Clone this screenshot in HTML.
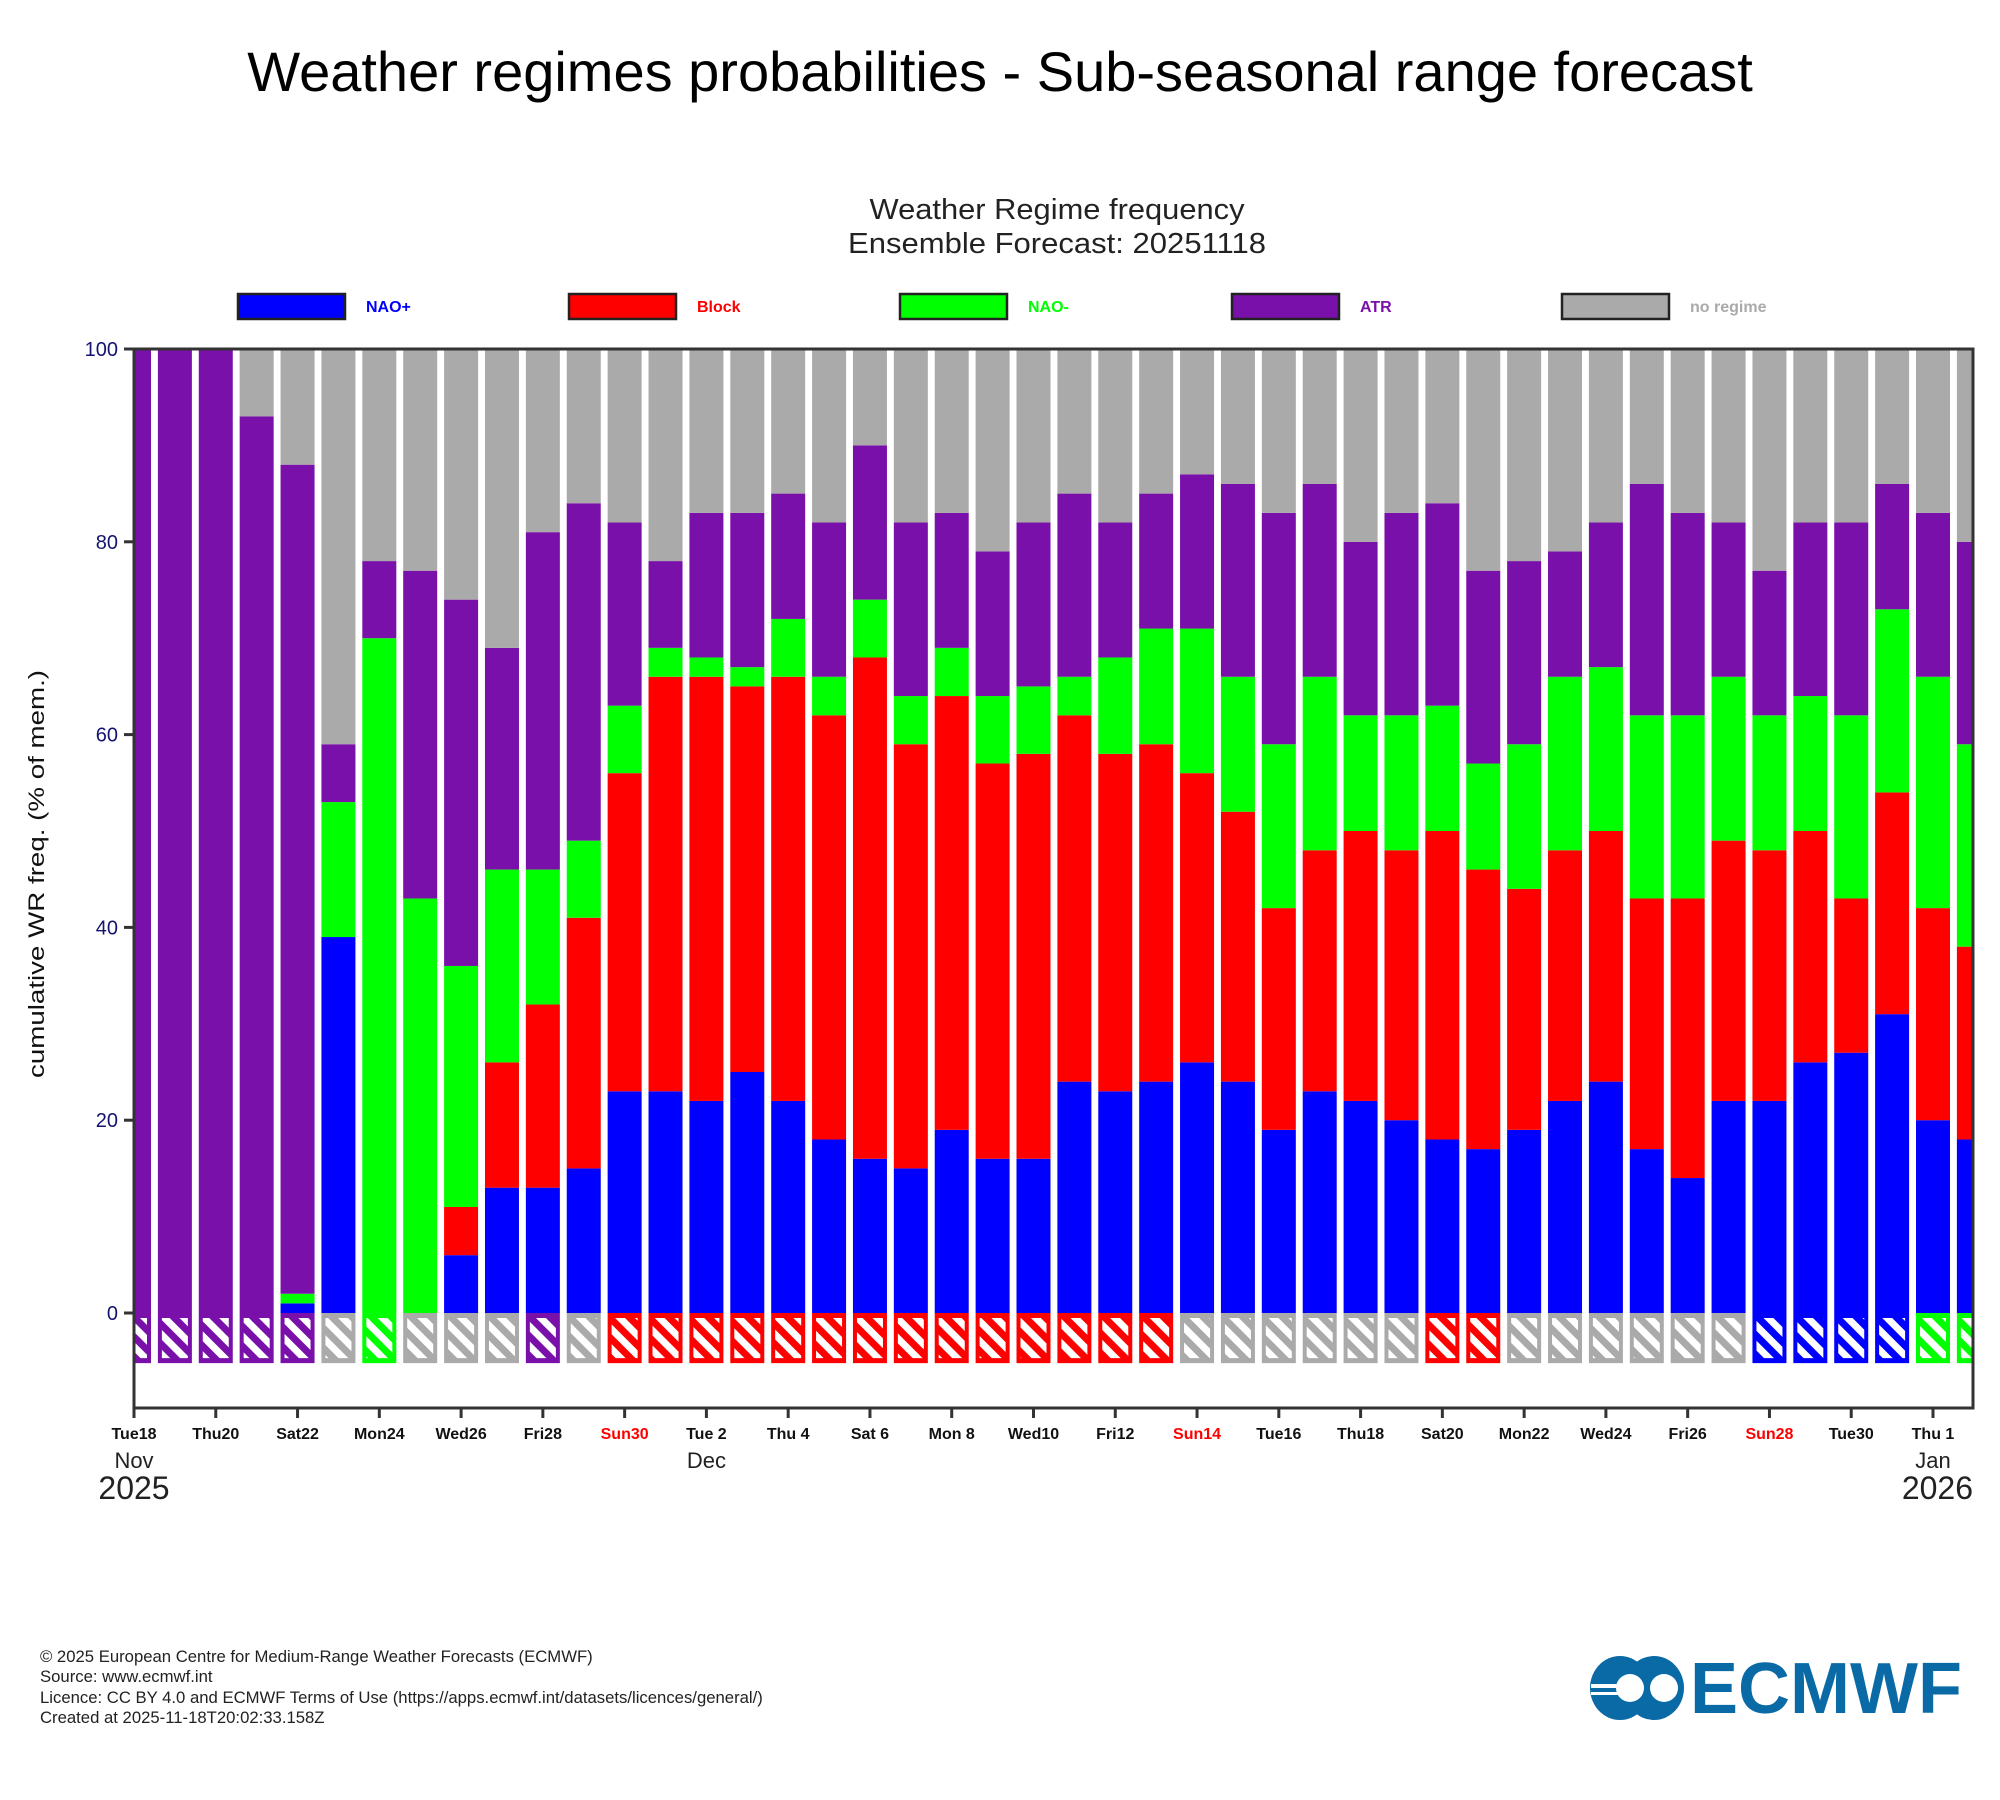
<!DOCTYPE html>
<html><head><meta charset="utf-8"><style>
html,body{margin:0;padding:0;background:#fff;width:2000px;height:1800px;overflow:hidden}
svg{display:block}
</style></head><body>
<svg id="chart" width="2000" height="1800" viewBox="0 0 2000 1800" xmlns="http://www.w3.org/2000/svg" font-family="Liberation Sans, sans-serif">
<defs>
<pattern id="hatch" patternUnits="userSpaceOnUse" width="14" height="14" patternTransform="rotate(45)">
<rect x="0" y="0" width="14" height="7" fill="#fff"/>
</pattern>
<clipPath id="plotclip"><rect x="134" y="349" width="1839" height="1060"/></clipPath>
</defs>
<text x="1000" y="91" text-anchor="middle" font-size="56">Weather regimes probabilities - Sub-seasonal range forecast</text>
<text x="1057" y="219" text-anchor="middle" font-size="29" fill="#222" textLength="375" lengthAdjust="spacingAndGlyphs">Weather Regime frequency</text>
<text x="1057" y="253" text-anchor="middle" font-size="29" fill="#222" textLength="418" lengthAdjust="spacingAndGlyphs">Ensemble Forecast: 20251118</text>
<g id="legend"></g>
<g id="plot" clip-path="url(#plotclip)"></g>
<g id="axes"></g>
<text transform="translate(44,874) rotate(-90)" text-anchor="middle" font-size="22" fill="#111" textLength="408" lengthAdjust="spacingAndGlyphs">cumulative WR freq. (% of mem.)</text>
<g font-size="16.7" fill="#222">
<text x="40" y="1662">© 2025 European Centre for Medium-Range Weather Forecasts (ECMWF)</text>
<text x="40" y="1682">Source: www.ecmwf.int</text>
<text x="40" y="1703">Licence: CC BY 4.0 and ECMWF Terms of Use (https://apps.ecmwf.int/datasets/licences/general/)</text>
<text x="40" y="1723">Created at 2025-11-18T20:02:33.158Z</text>
</g>
<g fill="#0a6aa6">
<ellipse cx="1620" cy="1688" rx="30" ry="32"/>
<ellipse cx="1654" cy="1688" rx="30" ry="32"/>
<circle cx="1630" cy="1688" r="14" fill="#fff"/>
<circle cx="1664" cy="1688" r="14" fill="#fff"/>
<rect x="1591" y="1684" width="36" height="4" fill="#fff"/>
<rect x="1591" y="1692" width="36" height="3" fill="#fff"/>
<text x="1690" y="1713" font-size="72" font-weight="bold" textLength="272" lengthAdjust="spacingAndGlyphs">ECMWF</text>
</g>
</svg>
<script>
// cumulative tops: NAO+, Block, NAO-, ATR (rest = no regime)
const days = ["Tue18","Wed19","Thu20","Fri21","Sat22","Sun23","Mon24","Tue25","Wed26","Thu27","Fri28","Sat29","Sun30","Mon1","Tue2","Wed3","Thu4","Fri5","Sat6","Sun7","Mon8","Tue9","Wed10","Thu11","Fri12","Sat13","Sun14","Mon15","Tue16","Wed17","Thu18","Fri19","Sat20","Sun21","Mon22","Tue23","Wed24","Thu25","Fri26","Sat27","Sun28","Mon29","Tue30","Wed31","Thu1","Fri2"];
const naoPlus = [0,0,0,0,1,39,0,0,6,13,13,15,23,23,22,25,22,18,16,15,19,16,16,24,23,24,26,24,19,23,22,20,18,17,19,22,24,17,14,22,22,26,27,31,20,18];
const blockTop = [0,0,0,0,1,39,0,0,11,26,32,41,56,66,66,65,66,62,68,59,64,57,58,62,58,59,56,52,42,48,50,48,50,46,44,48,50,43,43,49,48,50,43,54,42,38];
const naoMinusTop = [0,0,0,0,2,53,70,43,36,46,46,49,63,69,68,67,72,66,74,64,69,64,65,66,68,71,71,66,59,66,62,62,63,57,59,66,67,62,62,66,62,64,62,73,66,59];
const atrTop = [100,100,100,93,88,59,78,77,74,69,81,84,82,78,83,83,85,82,90,82,83,79,82,85,82,85,87,86,83,86,80,83,84,77,78,79,82,86,83,82,77,82,82,86,83,80];
const dominant = ["ATR","ATR","ATR","ATR","ATR","none","NAO-","none","none","none","ATR","none","Block","Block","Block","Block","Block","Block","Block","Block","Block","Block","Block","Block","Block","Block","none","none","none","none","none","none","Block","Block","none","none","none","none","none","none","NAO+","NAO+","NAO+","NAO+","NAO-","NAO-"];
const tickLabels = ["Tue18","Thu20","Sat22","Mon24","Wed26","Fri28","Sun30","Tue 2","Thu 4","Sat 6","Mon 8","Wed10","Fri12","Sun14","Tue16","Thu18","Sat20","Mon22","Wed24","Fri26","Sun28","Tue30","Thu 1"];
const yTicks = [0,20,40,60,80,100];
const regimes = ["NAO+","Block","NAO-","ATR","no regime"];

const colors = {"NAO+":"#0000ff","Block":"#ff0000","NAO-":"#00ff00","ATR":"#7a10aa","none":"#aaaaaa","no regime":"#aaaaaa"};
const NS="http://www.w3.org/2000/svg";
const X0=134, X1=1973, STEP=(1933-134)/44, BW=34;
const Y0=1313, UNIT=(1313-349)/100;
function xs(i){return X0+i*STEP;}
function ys(v){return Y0-v*UNIT;}
function mk(tag,attrs,parent){const e=document.createElementNS(NS,tag);for(const k in attrs)e.setAttribute(k,attrs[k]);parent.appendChild(e);return e;}
const plot=document.getElementById('plot'), axes=document.getElementById('axes'), legend=document.getElementById('legend');

days.forEach((d,i)=>{
  const g=mk('g',{},plot);
  
  
  const segs=[[0,naoPlus[i],"NAO+"],[naoPlus[i],blockTop[i],"Block"],[blockTop[i],naoMinusTop[i],"NAO-"],[naoMinusTop[i],atrTop[i],"ATR"],[atrTop[i],100,"none"]];
  segs.forEach(s=>{
    if(s[1]-s[0]<=0) return;
    const r=mk('rect',{x:xs(i)-BW/2,y:ys(s[1]),width:BW,height:(s[1]-s[0])*UNIT,fill:colors[s[2]]},g);
    
    
  });
  const hb=mk('g',{},g);
  
  
  mk('rect',{x:xs(i)-BW/2,y:ys(0),width:BW,height:5.2*UNIT,fill:colors[dominant[i]]},hb);
  mk('rect',{x:xs(i)-BW/2+4,y:ys(0)+5,width:BW-8,height:5.2*UNIT-10,fill:'url(#hatch)'},hb);
});

const fr=mk('rect',{x:X0,y:349,width:X1-X0,height:1408-349,fill:'none',stroke:'#333','stroke-width':3},axes);


yTicks.forEach(v=>{
  mk('line',{x1:X0-10,x2:X0,y1:ys(v),y2:ys(v),stroke:'#333','stroke-width':3},axes);
  const t=mk('text',{x:X0-16,y:ys(v)+7,'text-anchor':'end','font-size':20,fill:'#141470'},axes);
  t.textContent=v;
  
  
});
tickLabels.forEach((lab,k)=>{
  const x=xs(k*2);
  mk('line',{x1:x,x2:x,y1:1408,y2:1418,stroke:'#333','stroke-width':3},axes);
  const t=mk('text',{x:x,y:1439,'text-anchor':'middle','font-size':16,'font-weight':'bold',fill:lab.startsWith('Sun')?'#ff0000':'#111'},axes);
  t.textContent=lab;
  
  
});
const monthLabels=[["Nov",0,"middle"],["Dec",14,"middle"],["Jan",44,"middle"]];
monthLabels.forEach(m=>{
  const t=mk('text',{x:xs(m[1]),y:1468,'text-anchor':m[2],'font-size':22,fill:'#222'},axes);
  t.textContent=m[0];
  
  
});
const y1=mk('text',{x:X0,y:1499,'text-anchor':'middle','font-size':32,fill:'#222'},axes);
y1.textContent='2025';


const y2=mk('text',{x:X1,y:1499,'text-anchor':'end','font-size':32,fill:'#222'},axes);
y2.textContent='2026';



const legX=[238,569,900,1232,1562];
regimes.forEach((r,k)=>{
  const g=mk('g',{},legend);
  
  
  mk('rect',{x:legX[k],y:294,width:107,height:25,fill:colors[r],stroke:'#222','stroke-width':2.5},g);
  const t=mk('text',{x:legX[k]+128,y:312,'font-size':16,'font-weight':'bold',fill:r==="no regime"?'#aaaaaa':colors[r]},g);
  t.textContent=r;
});
</script>
</body></html>
